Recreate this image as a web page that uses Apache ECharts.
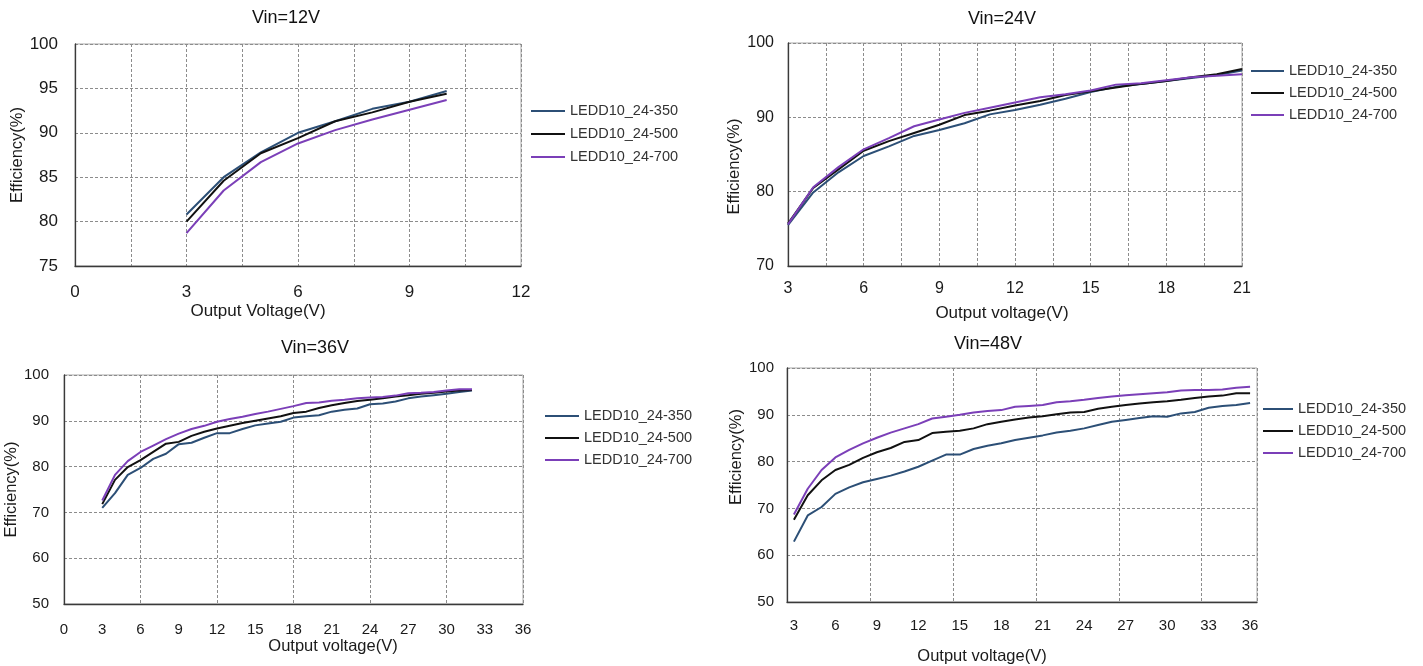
<!DOCTYPE html>
<html>
<head>
<meta charset="utf-8">
<script src="https://cdn.jsdelivr.net/npm/echarts@6/dist/echarts.min.js"></script>
<style>
html,body{margin:0;padding:0;background:#fff;}
#chart{width:1423px;height:666px;}
</style>
</head>
<body>
<div id="chart"></div>
<script>
// ---------- DATA ----------
const seriesNames = ['LEDD10_24-350', 'LEDD10_24-500', 'LEDD10_24-700'];

// Vin = 12V
const v12_x = [3, 4, 5, 6, 7, 8, 9, 10];
const v12_350 = [80.8, 85.0, 87.8, 90.0, 91.3, 92.7, 93.5, 94.7];
const v12_500 = [80.0, 84.6, 87.7, 89.4, 91.3, 92.3, 93.5, 94.4];
const v12_700 = [78.7, 83.5, 86.7, 88.8, 90.3, 91.5, 92.6, 93.7];

// Vin = 24V
const v24_x = [3, 4, 5, 6, 7, 8, 9, 10, 11, 12, 13, 14, 15, 16, 17, 18, 19, 20, 21];
const v24_350 = [75.5, 79.9, 82.6, 84.8, 86.1, 87.5, 88.3, 89.2, 90.4, 91.0, 91.7, 92.5, 93.4, 94.1, 94.5, 94.9, 95.3, 95.7, 96.3];
const v24_500 = [75.7, 80.5, 83.0, 85.5, 86.8, 87.9, 89.0, 90.3, 90.9, 91.6, 92.2, 93.0, 93.5, 94.0, 94.5, 94.9, 95.4, 95.8, 96.5];
const v24_700 = [75.6, 80.6, 83.3, 85.7, 87.2, 88.8, 89.7, 90.6, 91.3, 92.0, 92.7, 93.1, 93.6, 94.4, 94.6, 95.0, 95.4, 95.6, 95.8];

// Vin = 36V
const v36_x = [3, 4, 5, 6, 7, 8, 9, 10, 11, 12, 13, 14, 15, 16, 17, 18, 19, 20, 21, 22, 23, 24, 25, 26, 27, 28, 29, 30, 31, 32];
const v36_350 = [71.0, 74.2, 78.2, 79.7, 81.7, 82.8, 84.9, 85.2, 86.3, 87.3, 87.3, 88.2, 89.0, 89.4, 89.8, 90.7, 91.0, 91.2, 92.0, 92.4, 92.7, 93.6, 93.8, 94.2, 94.9, 95.3, 95.6, 95.9, 96.3, 96.6];
const v36_500 = [71.8, 77.1, 79.9, 81.4, 83.2, 85.0, 85.4, 86.7, 87.6, 88.3, 88.9, 89.5, 90.0, 90.5, 91.0, 91.7, 92.0, 92.8, 93.4, 93.9, 94.3, 94.6, 94.9, 95.3, 95.6, 95.9, 96.1, 96.4, 96.6, 96.7];
const v36_700 = [72.6, 78.2, 81.2, 83.2, 84.6, 86.0, 87.2, 88.2, 88.9, 89.8, 90.4, 90.9, 91.5, 92.0, 92.6, 93.2, 93.9, 94.0, 94.4, 94.6, 94.9, 95.1, 95.2, 95.5, 96.0, 96.1, 96.3, 96.6, 96.9, 96.9];

// Vin = 48V (category axis)
const v48_cats = ['3', '4', '5', '6', '7', '8', '9', '10', '11', '12', '13', '14', '15', '16', '17', '18', '19', '20', '21', '22', '23', '24', '25', '26', '27', '28', '29', '30', '31', '32', '33', '34', '35', '36'];
const v48_350 = [62.9, 68.5, 70.3, 73.1, 74.5, 75.6, 76.3, 77.0, 77.9, 78.9, 80.2, 81.5, 81.5, 82.7, 83.4, 83.9, 84.6, 85.1, 85.6, 86.2, 86.6, 87.1, 87.8, 88.5, 88.9, 89.3, 89.7, 89.6, 90.3, 90.6, 91.5, 91.9, 92.1, 92.5];
const v48_500 = [67.6, 72.8, 76.0, 78.2, 79.3, 80.8, 82.0, 82.9, 84.2, 84.6, 86.1, 86.4, 86.6, 87.1, 88.0, 88.5, 89.0, 89.4, 89.7, 90.1, 90.5, 90.6, 91.3, 91.7, 92.1, 92.4, 92.7, 92.9, 93.2, 93.6, 93.9, 94.1, 94.6, 94.6];
const v48_700 = [68.7, 74.2, 78.2, 80.9, 82.5, 83.9, 85.1, 86.2, 87.1, 88.0, 89.2, 89.6, 90.0, 90.5, 90.8, 91.0, 91.7, 91.9, 92.1, 92.7, 92.9, 93.2, 93.6, 93.9, 94.2, 94.4, 94.6, 94.8, 95.2, 95.3, 95.3, 95.4, 95.8, 96.0];

const titles = ['Vin=12V', 'Vin=24V', 'Vin=36V', 'Vin=48V'];

// ---------- STYLE ----------
const FONT = "'Liberation Sans', Arial, sans-serif";
const COLORS = ['#2c4f76', '#111111', '#7b3fb8'];
const TXT = '#1a1a1a';

function pairs(xs, ys) { return xs.map((x, i) => [x, ys[i]]); }

const gridBox = [
  {left: 75, top: 44, width: 446, height: 222},
  {left: 788, top: 43, width: 454, height: 223},
  {left: 64, top: 375, width: 459, height: 229},
  {left: 787, top: 368, width: 470, height: 236}
];

const splitDash = {show: true, lineStyle: {color: '#8c8c8c', width: 1, type: [3, 2]}};
const axisLineDark = {show: true, onZero: false, lineStyle: {color: '#3a3a3a', width: 1.3}};

function every3(v) { return (Math.abs(v % 3) < 1e-9) ? String(v) : ''; }

const grids = gridBox.map(g => Object.assign({show: true, borderColor: '#a8a8a8', borderWidth: 1, containLabel: false}, g));

const xAxes = [
  // 0: panel 1
  {type: 'value', gridIndex: 0, min: 0, max: 12, interval: 1.5,
   axisLine: axisLineDark, axisTick: {show: false}, splitLine: splitDash,
   axisLabel: {formatter: every3, fontSize: 17, color: TXT, fontFamily: FONT, margin: 18, showMinLabel: true, showMaxLabel: true},
   name: 'Output Voltage(V)', nameLocation: 'middle', nameGap: 37,
   nameTextStyle: {fontSize: 17, color: TXT, fontFamily: FONT, padding: [0, 80, 0, 0]}},
  // 1: panel 2
  {type: 'value', gridIndex: 1, min: 3, max: 21, interval: 1.5,
   axisLine: axisLineDark, axisTick: {show: false}, splitLine: splitDash,
   axisLabel: {formatter: every3, fontSize: 16, color: TXT, fontFamily: FONT, margin: 15, showMinLabel: true, showMaxLabel: true},
   name: 'Output voltage(V)', nameLocation: 'middle', nameGap: 39,
   nameTextStyle: {fontSize: 17, color: TXT, fontFamily: FONT, padding: [0, 26, 0, 0]}},
  // 2: panel 3 labels
  {type: 'value', gridIndex: 2, min: 0, max: 36, interval: 3,
   axisLine: axisLineDark, axisTick: {show: false}, splitLine: {show: false},
   axisLabel: {fontSize: 15, color: TXT, fontFamily: FONT, margin: 18, showMinLabel: true, showMaxLabel: true},
   name: 'Output voltage(V)', nameLocation: 'middle', nameGap: 33,
   nameTextStyle: {fontSize: 16.5, color: TXT, fontFamily: FONT, padding: [0, 0, 0, 79]}},
  // 3: panel 4 category
  {type: 'category', gridIndex: 3, data: v48_cats, boundaryGap: true,
   axisLine: axisLineDark, axisTick: {show: false},
   splitLine: Object.assign({interval: 5}, splitDash),
   axisLabel: {interval: 2, fontSize: 15, color: TXT, fontFamily: FONT, margin: 16},
   name: 'Output voltage(V)', nameLocation: 'middle', nameGap: 46,
   nameTextStyle: {fontSize: 16.5, color: TXT, fontFamily: FONT, padding: [0, 80, 0, 0]}},
  // 4: panel 3 grid lines every 6
  {type: 'value', gridIndex: 2, min: 0, max: 36, interval: 6,
   axisLine: {show: false}, axisTick: {show: false}, axisLabel: {show: false},
   splitLine: splitDash}
];

function yAxis(gi, min, max, interval, fs, margin, gap, pad) {
  return {type: 'value', gridIndex: gi, min: min, max: max, interval: interval,
    axisLine: axisLineDark, axisTick: {show: false}, splitLine: splitDash,
    axisLabel: {fontSize: fs, color: TXT, fontFamily: FONT, margin: margin, showMinLabel: true, showMaxLabel: true},
    name: 'Efficiency(%)', nameLocation: 'middle', nameGap: gap,
    nameTextStyle: {fontSize: 16.5, color: TXT, fontFamily: FONT, padding: pad}};
}
const yAxes = [
  yAxis(0, 75, 100, 5, 17, 17, 46, [0, 0, 0, 0]),
  yAxis(1, 70, 100, 10, 16, 14, 38, [0, 24, 0, 0]),
  yAxis(2, 50, 100, 10, 15, 15, 36, [0, 0, 0, 0]),
  yAxis(3, 50, 100, 10, 15, 13, 41, [0, 0, 0, 56])
];

function line(name, ci, xi, yi, data) {
  return {type: 'line', name: name, xAxisIndex: xi, yAxisIndex: yi, data: data,
    symbol: 'none', smooth: false, silent: true, animation: false,
    lineStyle: {color: COLORS[ci], width: 2}, itemStyle: {color: COLORS[ci]}};
}

const series = [
  line(seriesNames[0], 0, 0, 0, pairs(v12_x, v12_350)),
  line(seriesNames[1], 1, 0, 0, pairs(v12_x, v12_500)),
  line(seriesNames[2], 2, 0, 0, pairs(v12_x, v12_700)),
  line(seriesNames[0], 0, 1, 1, pairs(v24_x, v24_350)),
  line(seriesNames[1], 1, 1, 1, pairs(v24_x, v24_500)),
  line(seriesNames[2], 2, 1, 1, pairs(v24_x, v24_700)),
  line(seriesNames[0], 0, 2, 2, pairs(v36_x, v36_350)),
  line(seriesNames[1], 1, 2, 2, pairs(v36_x, v36_500)),
  line(seriesNames[2], 2, 2, 2, pairs(v36_x, v36_700)),
  line(seriesNames[0], 0, 3, 3, v48_350),
  line(seriesNames[1], 1, 3, 3, v48_500),
  line(seriesNames[2], 2, 3, 3, v48_700)
];

function legend(left, top, iw, gap) {
  return {left: left, top: top, orient: 'vertical', padding: 0, itemGap: gap,
    icon: 'rect', itemWidth: iw, itemHeight: 2, selectedMode: false,
    data: seriesNames,
    textStyle: {fontSize: 14.5, color: '#333', fontFamily: FONT, lineHeight: 18}};
}

const titleCfg = [
  {text: titles[0], left: 286, top: 9},
  {text: titles[1], left: 1002, top: 10},
  {text: titles[2], left: 315, top: 339},
  {text: titles[3], left: 988, top: 335}
].map(t => Object.assign({textAlign: 'center', padding: 0,
  textStyle: {fontSize: 18, fontWeight: 'normal', color: '#111', fontFamily: FONT}}, t));

const option = {
  backgroundColor: '#ffffff',
  animation: false,
  title: titleCfg,
  grid: grids,
  xAxis: xAxes,
  yAxis: yAxes,
  legend: [
    legend(531, 102, 34, 5),
    legend(1251, 62, 33, 4),
    legend(545, 407, 34, 4),
    legend(1263, 400, 30, 4)
  ],
  series: series
};

const chart = echarts.init(document.getElementById('chart'), null, {renderer: 'canvas'});
chart.setOption(option);
</script>
</body>
</html>
